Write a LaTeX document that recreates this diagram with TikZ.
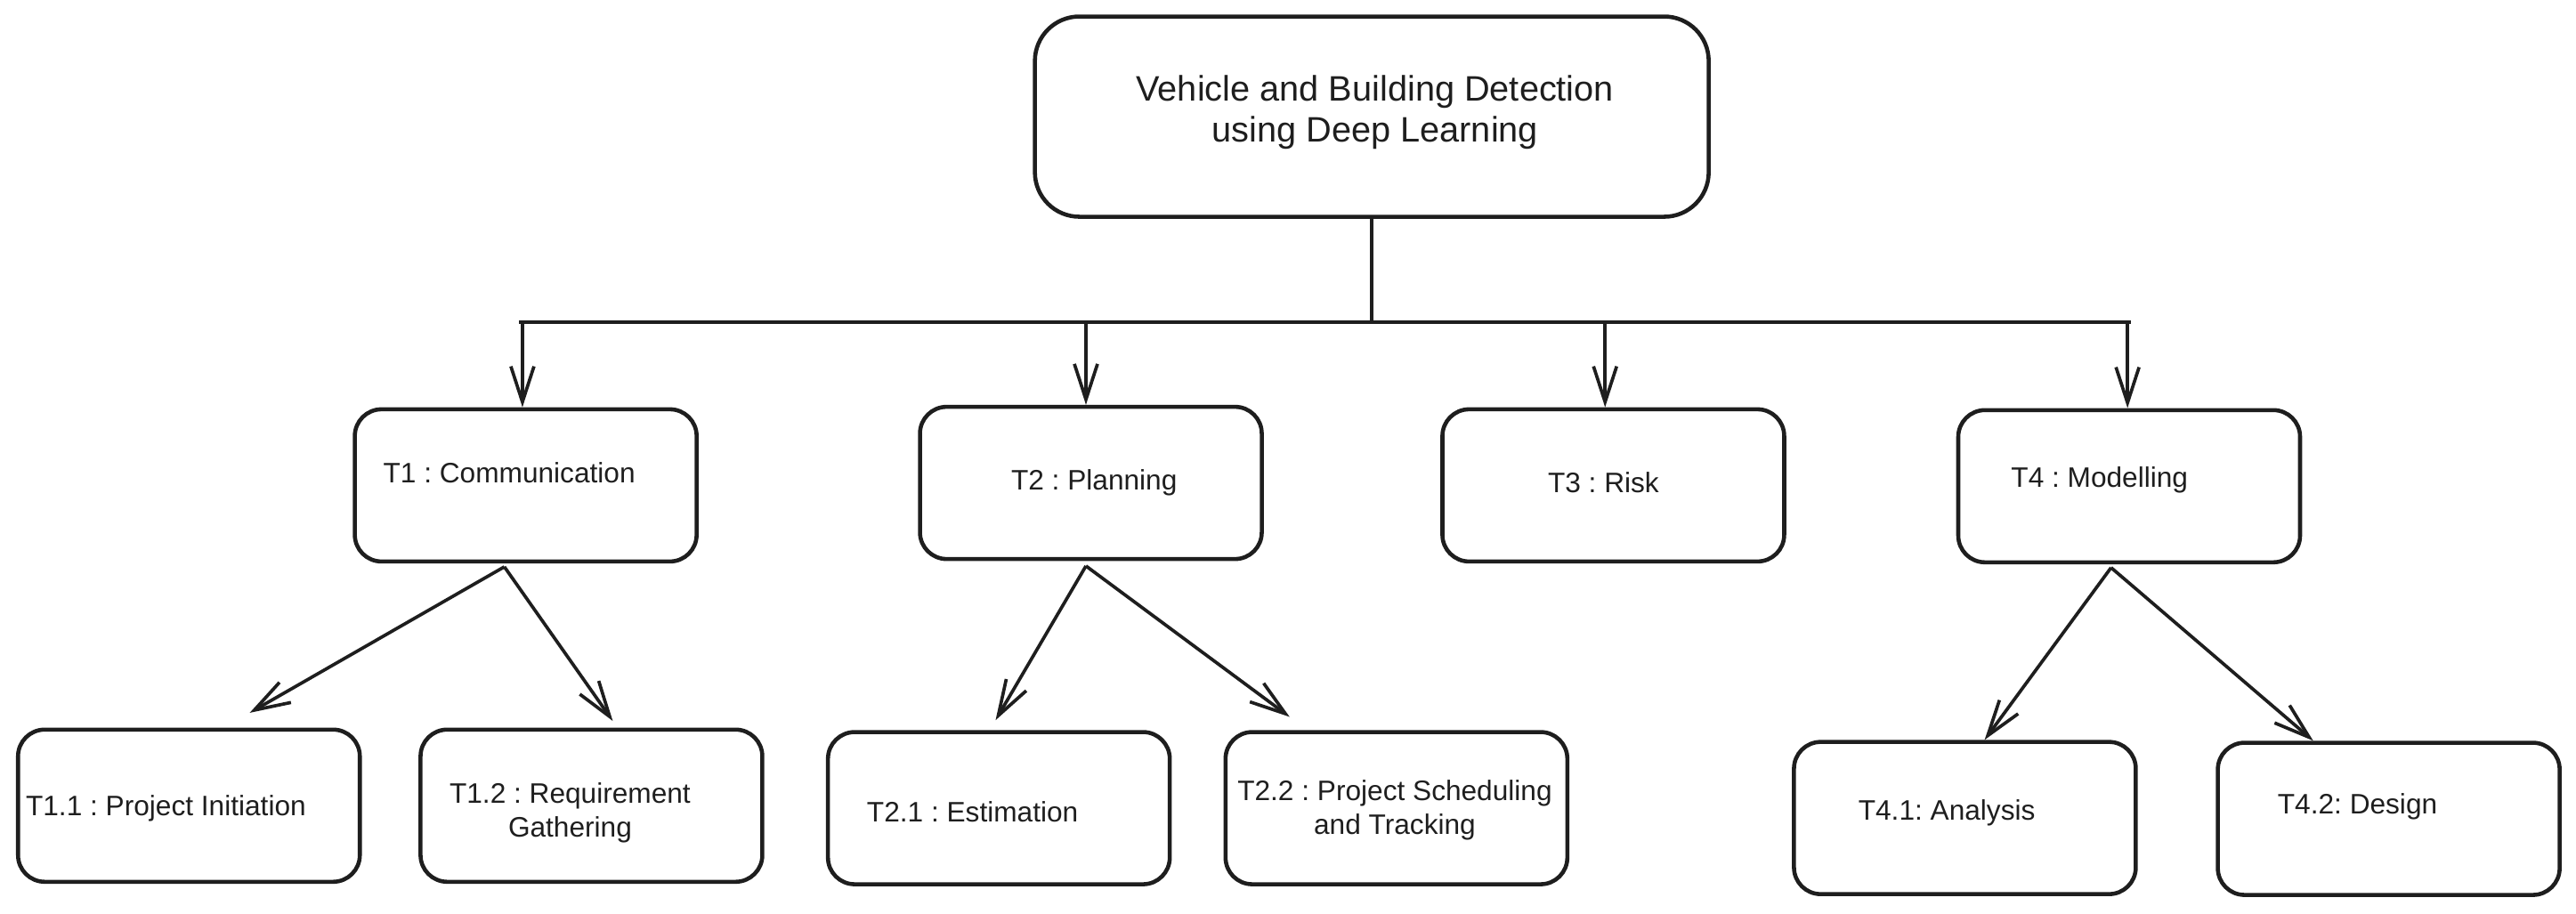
\documentclass[tikz,border=0pt]{standalone}
\usepackage{fontspec}
\setmainfont{Liberation Sans}
\usetikzlibrary{arrows.meta, positioning, calc}
\definecolor{ink}{HTML}{1E1E1E}
\frenchspacing

\begin{document}
\begin{tikzpicture}[x=0.18457mm, y=-0.18457mm,
    task/.style={draw=ink, line width=1.3pt, rounded corners=3mm, minimum width=3.84cm, minimum height=1.71cm, inner sep=0pt},
    txt/.style={text=ink, font=\fontsize{9}{10.8}\selectfont, align=center, inner sep=0pt},
    link/.style={draw=ink, line width=1.2pt},
    arr/.style={draw=ink, line width=1.05pt, -{Straight Barb[length=4mm, width=2.6mm, line width=1.05pt]}}]
    \useasboundingbox (0,0) rectangle (1568,556);

    % root
    \node[task, minimum width=7.57cm, minimum height=2.25cm, rounded corners=5mm] (root) at (835,71) {};
    \node[txt, font=\fontsize{11.3}{13.1}\selectfont] (rootl) at (837,68.5) {Vehicle and Building Detection\\using Deep Learning};

    % first level
    \node[task] (t1) at (320,295.5) {};
    \node[task] (t2) at (664,294) {};
    \node[task] (t3) at (982,295.5) {};
    \node[task] (t4) at (1296,296) {};
    \node[txt] (t1l) at (310,288) {T1 : Communication};
    \node[txt] (t2l) at (666,294) {T2 : Planning};
    \node[txt] (t3l) at (976,294) {T3 : Risk};
    \node[txt] (t4l) at (1278,292) {T4 : Modelling};

    % second level
    \node[task] (t11) at (115,490.5) {};
    \node[task] (t12) at (360,490.5) {};
    \node[task] (t21) at (608,492) {};
    \node[task] (t22) at (850,492) {};
    \node[task] (t41) at (1196,498) {};
    \node[task] (t42) at (1454,498.5) {};
    \node[txt] (t11l) at (101,492) {T1.1 : Project Initiation};
    \node[txt] (t12l) at (347,495) {T1.2 : Requirement\\Gathering};
    \node[txt] (t21l) at (592,494) {T2.1 : Estimation};
    \node[txt] (t22l) at (849,493) {T2.2 : Project Scheduling\\and Tracking};
    \node[txt] (t41l) at (1185,495) {T4.1: Analysis};
    \node[txt] (t42l) at (1435,491) {T4.2: Design};

    % bus
    \coordinate (bl) at (316,196);
    \coordinate (br) at (1297,196);
    \coordinate (d1) at (318,196);
    \coordinate (d2) at (661,196);
    \coordinate (d3) at (977,196);
    \coordinate (d4) at (1295,196);
    \draw[link] (root.south) -- (root.south |- bl);
    \draw[link] (bl) -- (br);
    \draw[arr] (d1) -- (d1 |- t1.north);
    \draw[arr] (d2) -- (d2 |- t2.north);
    \draw[arr] (d3) -- (d3 |- t3.north);
    \draw[arr] (d4) -- (d4 |- t4.north);

    % children
    \coordinate (s1) at ($(t1.south)+(-13,2)$);
    \coordinate (s2) at ($(t2.south)+(-3,3)$);
    \coordinate (s4) at ($(t4.south)+(-11,2)$);
    \draw[arr] (s1) -- ($(t11.north)+(37,-9)$);
    \draw[arr] (s1) -- ($(t12.north)+(13,-4)$);
    \draw[arr] (s2) -- ($(t21.north)+(-2,-6)$);
    \draw[arr] (s2) -- ($(t22.north)+(-65,-8)$);
    \draw[arr] (s4) -- ($(t41.north)+(12,0)$);
    \draw[arr] (s4) -- ($(t42.north)+(-46,0)$);
\end{tikzpicture}
\end{document}
